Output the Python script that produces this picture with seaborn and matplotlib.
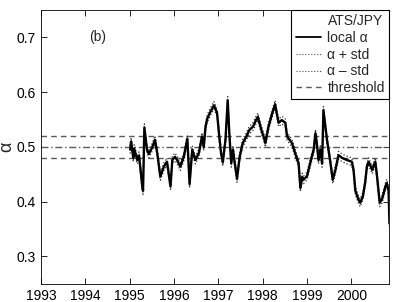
import numpy as np
import pandas as pd
import matplotlib
matplotlib.use("Agg")
import matplotlib.pyplot as plt
from matplotlib.lines import Line2D
import seaborn as sns

# local alpha (decimal year, value)
years = [1995.01, 1995.03, 1995.08, 1995.10, 1995.17, 1995.21, 1995.28, 1995.30,
         1995.33, 1995.39, 1995.43, 1995.51, 1995.57, 1995.62, 1995.69, 1995.77,
         1995.84, 1995.92, 1995.96, 1996.02, 1996.07, 1996.14, 1996.22, 1996.30,
         1996.35, 1996.41, 1996.48, 1996.56, 1996.63, 1996.67, 1996.71, 1996.75,
         1996.82, 1996.90, 1996.97, 1997.02, 1997.06, 1997.10, 1997.16, 1997.21,
         1997.25, 1997.29, 1997.33, 1997.36, 1997.42, 1997.48, 1997.55, 1997.63,
         1997.70, 1997.78, 1997.85, 1997.89, 1997.97, 1998.02, 1998.06, 1998.13,
         1998.21, 1998.28, 1998.32, 1998.36, 1998.43, 1998.51, 1998.55, 1998.66,
         1998.73, 1998.81, 1998.85, 1998.89, 1998.92, 1999.00, 1999.07, 1999.15,
         1999.19, 1999.22, 1999.26, 1999.30, 1999.34, 1999.37, 1999.45, 1999.52,
         1999.58, 1999.64, 1999.71, 1999.79, 1999.90, 2000.01, 2000.05, 2000.09,
         2000.16, 2000.20, 2000.26, 2000.31, 2000.35, 2000.39, 2000.47, 2000.54,
         2000.58, 2000.64, 2000.69, 2000.77, 2000.80, 2000.84, 2000.86]
alpha = [0.495, 0.510, 0.480, 0.497, 0.476, 0.484, 0.430, 0.420,
         0.535, 0.495, 0.487, 0.500, 0.513, 0.489, 0.446, 0.464,
         0.473, 0.428, 0.476, 0.482, 0.476, 0.464, 0.482, 0.515,
         0.432, 0.495, 0.476, 0.489, 0.519, 0.500, 0.537, 0.552,
         0.564, 0.576, 0.562, 0.519, 0.489, 0.472, 0.513, 0.585,
         0.520, 0.470, 0.495, 0.476, 0.442, 0.482, 0.507, 0.519,
         0.531, 0.537, 0.549, 0.555, 0.531, 0.519, 0.507, 0.537,
         0.560, 0.578, 0.560, 0.544, 0.549, 0.544, 0.519, 0.507,
         0.489, 0.470, 0.425, 0.445, 0.440, 0.447, 0.470, 0.495,
         0.525, 0.507, 0.476, 0.495, 0.470, 0.567, 0.513, 0.476,
         0.440, 0.458, 0.485, 0.480, 0.476, 0.473, 0.458, 0.420,
         0.404, 0.398, 0.410, 0.434, 0.464, 0.473, 0.458, 0.473,
         0.446, 0.398, 0.404, 0.428, 0.434, 0.420, 0.360]
std = 0.007
thresholds = [0.48, 0.52]
center = 0.5

x_ticks = [1993, 1994, 1995, 1996, 1997, 1998, 1999, 2000]
y_ticks = [0.3, 0.4, 0.5, 0.6, 0.7]

df = pd.DataFrame({"year": years, "alpha": alpha})
df["upper"] = df["alpha"] + std
df["lower"] = df["alpha"] - std

sns.set_style("ticks")
plt.rcParams["font.family"] = ["Liberation Sans", "DejaVu Sans"]
plt.rcParams["mathtext.fontset"] = "dejavusans"

fig = plt.figure(figsize=(3.99, 3.02), dpi=100)
ax = fig.add_axes([0.103, 0.06, 0.872, 0.907])

for t in thresholds:
    ax.axhline(t, color="0.35", ls=(0, (4, 3)), lw=1.0)
ax.axhline(center, color="0.35", ls=(0, (5, 2, 1, 2)), lw=1.0)

sns.lineplot(data=df, x="year", y="upper", ax=ax, color="0.2", lw=0.9,
             linestyle=":", estimator=None, sort=False)
sns.lineplot(data=df, x="year", y="lower", ax=ax, color="0.2", lw=0.9,
             linestyle=":", estimator=None, sort=False)
sns.lineplot(data=df, x="year", y="alpha", ax=ax, color="black", lw=1.7,
             estimator=None, sort=False)

ax.set_xlim(1993, 2000.85)
ax.set_ylim(0.25, 0.75)
ax.set_xticks(x_ticks)
ax.set_xticklabels([str(v) for v in x_ticks])
ax.set_yticks(y_ticks)
ax.set_yticklabels([f"{v:.1f}" for v in y_ticks])
ax.tick_params(direction="in", length=4, width=0.6, labelsize=10,
               top=True, right=True, colors="black")
for s in ax.spines.values():
    s.set_linewidth(0.6)
    s.set_color("black")
ax.set_xlabel("")
ax.set_ylabel("α", fontsize=13, labelpad=1)

ax.text(1994.27, 0.70, "(b)", fontsize=10, ha="center", va="center")

handles = [
    Line2D([], [], color="none"),
    Line2D([], [], color="black", lw=1.3),
    Line2D([], [], color="0.3", lw=0.8, ls=":"),
    Line2D([], [], color="0.3", lw=0.8, ls=":"),
    Line2D([], [], color="0.35", lw=1.0, ls=(0, (4, 3))),
]
labels = ["ATS/JPY", "local α", "α + std", "α – std", "threshold"]
leg = ax.legend(handles, labels, loc="upper right", borderaxespad=0,
                fontsize=10, frameon=True, fancybox=False, framealpha=1,
                handlelength=1.8, handletextpad=0.5, labelspacing=0.2,
                borderpad=0.3)
leg.get_frame().set_edgecolor("black")
leg.get_frame().set_linewidth(0.8)

fig.savefig("out.png", dpi=100)
